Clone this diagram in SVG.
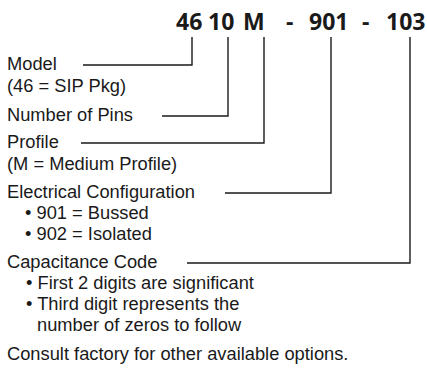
<svg xmlns="http://www.w3.org/2000/svg" width="427" height="370" viewBox="0 0 427 370">
<style>
.t{font-family:"Liberation Sans",Arial,sans-serif;font-size:18.3px;fill:#1a1a1a}
.h{font-family:"Open Sans","Noto Sans",sans-serif;font-size:23px;font-weight:bold;fill:#1a1a1a}
.c{fill:none;stroke:#1a1a1a;stroke-width:1.4}
</style>
<rect width="427" height="370" fill="#fff"/>
<g id="part-number">
<text class="h" y="30"><tspan x="176">46</tspan><tspan x="208">10</tspan><tspan x="243">M</tspan><tspan x="286">-</tspan><tspan x="309">901</tspan><tspan x="362">-</tspan><tspan x="386">103</tspan></text>
</g>
<g id="model">
<text class="t" x="7" y="70">Model</text>
<text class="t" x="7" y="92">(46 = SIP Pkg)</text>
</g>
<g id="pins">
<text class="t" x="7" y="121">Number of Pins</text>
</g>
<g id="profile">
<text class="t" x="7" y="148">Profile</text>
<text class="t" x="7" y="170">(M = Medium Profile)</text>
</g>
<g id="electrical">
<text class="t" x="7" y="198">Electrical Configuration</text>
<text class="t" x="25" y="219">• 901 = Bussed</text>
<text class="t" x="25" y="240">• 902 = Isolated</text>
</g>
<g id="capacitance">
<text class="t" x="7" y="268">Capacitance Code</text>
<text class="t" x="26" y="289">• First 2 digits are significant</text>
<text class="t" x="26" y="310">• Third digit represents the</text>
<text class="t" x="37" y="331">number of zeros to follow</text>
</g>
<g id="note">
<text class="t" x="7" y="360">Consult factory for other available options.</text>
</g>
<g id="connectors">
<path class="c" d="M83 65H192V37"/>
<path class="c" d="M162 116H228V37"/>
<path class="c" d="M81 143H264V37"/>
<path class="c" d="M225 193H331V37"/>
<path class="c" d="M187 263H410V37"/>
</g>
</svg>
